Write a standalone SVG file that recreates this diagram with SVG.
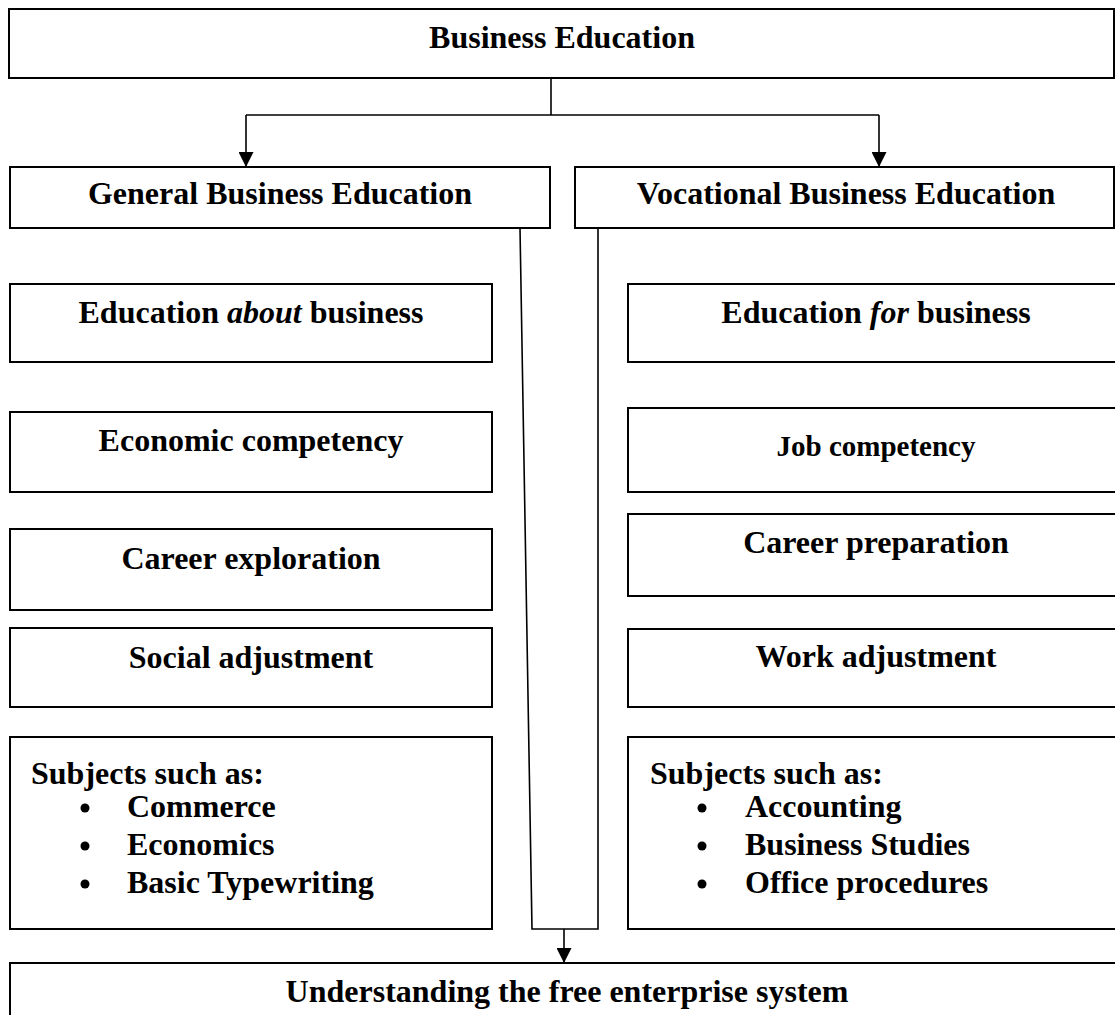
<svg xmlns="http://www.w3.org/2000/svg" width="1115" height="1015" viewBox="0 0 1115 1015">
<defs>
<style>
.box{fill:#fff;stroke:#000;stroke-width:2}
.t{font-family:"Liberation Serif","Times New Roman",serif;font-weight:bold;font-size:32px;fill:#000}
.c{text-anchor:middle}
.ln{fill:none;stroke:#000;stroke-width:1.6}
</style>
<marker id="ah" markerWidth="15" markerHeight="15" viewBox="0 0 15 15" refX="15" refY="7.5" orient="auto" markerUnits="userSpaceOnUse">
<path d="M0,0 L15,7.5 L0,15 Z" fill="#000"/>
</marker>
</defs>
<rect width="1115" height="1015" fill="#fff"/>

<g id="n-business-education">
<rect class="box" x="9" y="9" width="1105" height="69"/>
<text class="t c" x="562" y="48">Business Education</text>
</g>
<g id="n-general">
<rect class="box" x="10" y="167" width="540" height="61"/>
<text class="t c" x="280" y="204">General Business Education</text>
</g>
<g id="n-vocational">
<rect class="box" x="575" y="167" width="539" height="61"/>
<text class="t c" x="846" y="204">Vocational Business Education</text>
</g>

<g id="n-edu-about">
<rect class="box" x="10" y="284" width="482" height="78"/>
<text class="t c" x="251" y="323">Education <tspan font-style="italic">about</tspan> business</text>
</g>
<g id="n-economic">
<rect class="box" x="10" y="412" width="482" height="80"/>
<text class="t c" x="251" y="451">Economic competency</text>
</g>
<g id="n-career-exploration">
<rect class="box" x="10" y="529" width="482" height="81"/>
<text class="t c" x="251" y="569">Career exploration</text>
</g>
<g id="n-social">
<rect class="box" x="10" y="628" width="482" height="79"/>
<text class="t c" x="251" y="668">Social adjustment</text>
</g>
<g id="n-subjects-left">
<rect class="box" x="10" y="737" width="482" height="192"/>
<text class="t" x="31" y="784">Subjects such as:</text>
<circle cx="85" cy="808" r="4.5"/>
<circle cx="85" cy="846" r="4.5"/>
<circle cx="85" cy="884" r="4.5"/>
<text class="t" x="127" y="817">Commerce</text>
<text class="t" x="127" y="855">Economics</text>
<text class="t" x="127" y="893">Basic Typewriting</text>
</g>

<g id="n-edu-for">
<rect class="box" x="628" y="284" width="497" height="78"/>
<text class="t c" x="876" y="323">Education <tspan font-style="italic">for</tspan> business</text>
</g>
<g id="n-job">
<rect class="box" x="628" y="408" width="497" height="84"/>
<text class="t c" x="876" y="456" style="font-size:29px">Job competency</text>
</g>
<g id="n-career-preparation">
<rect class="box" x="628" y="514" width="497" height="82"/>
<text class="t c" x="876" y="553">Career preparation</text>
</g>
<g id="n-work">
<rect class="box" x="628" y="629" width="497" height="78"/>
<text class="t c" x="876" y="667">Work adjustment</text>
</g>
<g id="n-subjects-right">
<rect class="box" x="628" y="737" width="497" height="192"/>
<text class="t" x="650" y="784">Subjects such as:</text>
<circle cx="702" cy="808" r="4.5"/>
<circle cx="702" cy="846" r="4.5"/>
<circle cx="702" cy="884" r="4.5"/>
<text class="t" x="745" y="817">Accounting</text>
<text class="t" x="745" y="855">Business Studies</text>
<text class="t" x="745" y="893">Office procedures</text>
</g>

<g id="n-understanding">
<rect class="box" x="10" y="963" width="1115" height="70"/>
<text class="t c" x="567" y="1002">Understanding the free enterprise system</text>
</g>

<g id="connectors">
<path class="ln" d="M551,78 V115"/>
<path class="ln" d="M246,115 H879"/>
<path class="ln" d="M246,115 V167" marker-end="url(#ah)"/>
<path class="ln" d="M879,115 V167" marker-end="url(#ah)"/>
<path class="ln" d="M520,228 L532,929 H598 V228"/>
<path class="ln" d="M564,929 V963" marker-end="url(#ah)"/>
</g>
</svg>
